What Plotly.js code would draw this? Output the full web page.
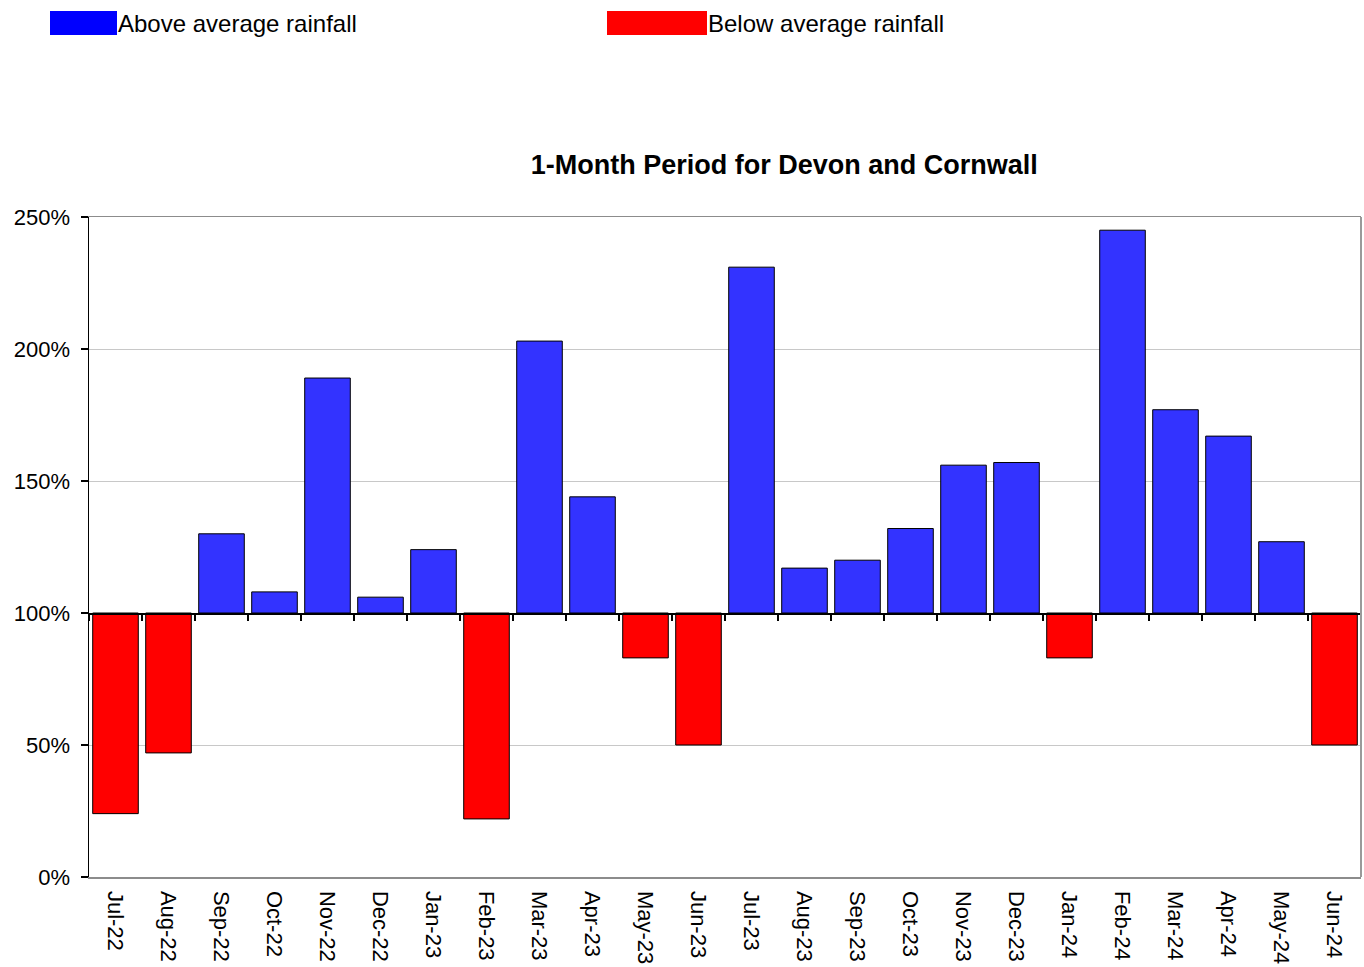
<!DOCTYPE html>
<html>
<head>
<meta charset="utf-8">
<script src="https://cdn.plot.ly/plotly-3.0.1.min.js"></script>
<style>
  html, body { margin: 0; padding: 0; background: #ffffff; }
  #chart { width: 1364px; height: 967px; }
</style>
</head>
<body>
<div id="chart"></div>
<script>
// Monthly rainfall as a percentage of the long-term average, Devon and Cornwall
const months = [
  'Jul-22', 'Aug-22', 'Sep-22', 'Oct-22', 'Nov-22', 'Dec-22',
  'Jan-23', 'Feb-23', 'Mar-23', 'Apr-23', 'May-23', 'Jun-23',
  'Jul-23', 'Aug-23', 'Sep-23', 'Oct-23', 'Nov-23', 'Dec-23',
  'Jan-24', 'Feb-24', 'Mar-24', 'Apr-24', 'May-24', 'Jun-24'
];
const rainfallPct = [
  24, 47, 130, 108, 189, 106,
  124, 22, 203, 144, 83, 50,
  231, 117, 120, 132, 156, 157,
  83, 245, 177, 167, 127, 50
];
const averageLevel = 100;
const yTicks = [0, 50, 100, 150, 200, 250];

const aboveColour = '#3333ff';
const belowColour = '#ff0000';
const FONT = 'Liberation Sans, Arial, sans-serif';

// Bars grow up or down from the 100% (average) line
const barTrace = {
  type: 'bar',
  x: months,
  y: rainfallPct.map(v => v - averageLevel),
  base: averageLevel,
  marker: {
    color: rainfallPct.map(v => v >= averageLevel ? aboveColour : belowColour),
    line: { color: '#000000', width: 1 }
  },
  hovertemplate: '%{x}: %{customdata}%<extra></extra>',
  customdata: rainfallPct,
  showlegend: false
};

// Invisible companion trace that gives the baseline axis its categories
const baselineTrace = {
  type: 'scatter',
  mode: 'none',
  x: months,
  y: rainfallPct,
  xaxis: 'x2',
  yaxis: 'y',
  hoverinfo: 'skip',
  showlegend: false
};

const layout = {
  width: 1364,
  height: 967,
  margin: { l: 89, r: 3, t: 217, b: 90 },
  paper_bgcolor: '#ffffff',
  plot_bgcolor: '#ffffff',
  font: { family: FONT, color: '#000000', size: 22 },
  bargap: 0.14,
  title: {
    text: '<b>1-Month Period for Devon and Cornwall</b>',
    font: { family: FONT, size: 27, color: '#000000' },
    xref: 'container', yref: 'container',
    x: 0.575, xanchor: 'center',
    y: 1 - 165 / 967, yanchor: 'middle'
  },
  xaxis: {
    type: 'category',
    categoryorder: 'array',
    categoryarray: months,
    range: [-0.5, months.length - 0.5],
    showline: true,
    linecolor: '#8c8c8c',
    linewidth: 1.5,
    mirror: true,
    ticks: '',
    tickangle: 90,
    tickfont: { family: FONT, size: 22, color: '#000000' },
    ticklabelstandoff: 8,
    showgrid: false,
    zeroline: false,
    fixedrange: true
  },
  xaxis2: {
    type: 'category',
    categoryorder: 'array',
    categoryarray: months,
    range: [-0.5, months.length - 0.5],
    overlaying: 'x',
    anchor: 'free',
    position: averageLevel / 250,
    showline: true,
    linecolor: '#000000',
    linewidth: 1.5,
    ticks: 'outside',
    tickson: 'boundaries',
    ticklen: 6,
    tickwidth: 1.5,
    tickcolor: '#000000',
    showticklabels: false,
    showgrid: false,
    zeroline: false,
    fixedrange: true
  },
  yaxis: {
    range: [0, 250],
    tickvals: yTicks,
    ticktext: yTicks.map(v => v + '%'),
    ticks: 'outside',
    ticklen: 7,
    tickwidth: 1.5,
    tickcolor: '#000000',
    ticklabelstandoff: 6,
    showline: true,
    linecolor: '#000000',
    linewidth: 1.5,
    showgrid: true,
    gridcolor: '#c8c8c8',
    gridwidth: 1,
    zeroline: false,
    tickfont: { family: FONT, size: 22, color: '#000000' },
    fixedrange: true
  },
  shapes: [
    // right-hand frame edge
    {
      type: 'line', xref: 'paper', yref: 'paper',
      x0: 1, x1: 1, y0: 0, y1: 1,
      line: { color: '#9a9a9a', width: 2 }
    },
    // legend swatches
    {
      type: 'rect', xref: 'paper', yref: 'paper',
      xsizemode: 'pixel', xanchor: 0, x0: -39, x1: 28,
      ysizemode: 'pixel', yanchor: 1, y0: 182, y1: 206,
      fillcolor: '#0000ff', line: { width: 0 }
    },
    {
      type: 'rect', xref: 'paper', yref: 'paper',
      xsizemode: 'pixel', xanchor: 0, x0: 518, x1: 618,
      ysizemode: 'pixel', yanchor: 1, y0: 182, y1: 206,
      fillcolor: '#ff0000', line: { width: 0 }
    }
  ],
  annotations: [
    {
      text: 'Above average rainfall', xref: 'paper', yref: 'paper',
      x: 0, y: 1, xanchor: 'left', yanchor: 'middle',
      xshift: 27, yshift: 194, showarrow: false,
      font: { family: FONT, size: 24, color: '#000000' }
    },
    {
      text: 'Below average rainfall', xref: 'paper', yref: 'paper',
      x: 0, y: 1, xanchor: 'left', yanchor: 'middle',
      xshift: 617, yshift: 194, showarrow: false,
      font: { family: FONT, size: 24, color: '#000000' }
    }
  ],
  showlegend: false
};

Plotly.newPlot('chart', [barTrace, baselineTrace], layout, { displayModeBar: false, staticPlot: true });
</script>
</body>
</html>
